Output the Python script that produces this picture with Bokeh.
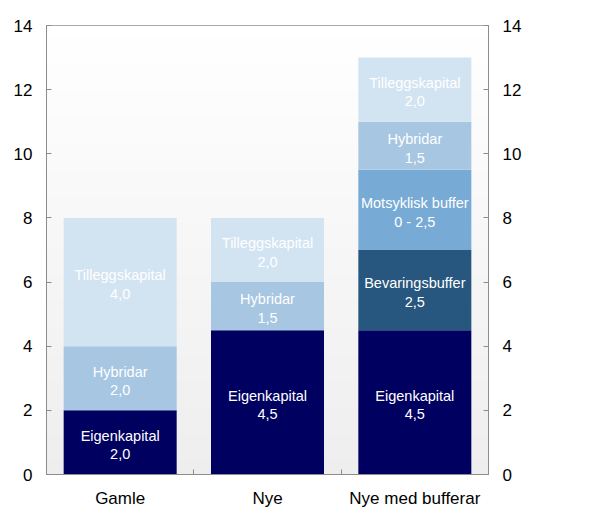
import numpy as np
from bokeh.plotting import figure
from bokeh.models import ColumnDataSource, LinearAxis, FixedTicker, Range1d
from bokeh.embed import file_html
from bokeh.resources import INLINE
from bokeh.core.properties import value

# ---- data ----
categories = ["Gamle", "Nye", "Nye med bufferar"]
components = ["Eigenkapital", "Bevaringsbuffer", "Motsyklisk buffer", "Hybridar", "Tilleggskapital"]
eigenkapital = [2.0, 4.5, 4.5]
bevaringsbuffer = [0.0, 0.0, 2.5]
motsyklisk_buffer = [0.0, 0.0, 2.5]
hybridar = [2.0, 1.5, 1.5]
tilleggskapital = [4.0, 2.0, 2.0]
label_eigenkapital = ["2,0", "4,5", "4,5"]
label_bevaringsbuffer = ["", "", "2,5"]
label_motsyklisk = ["", "", "0 - 2,5"]
label_hybridar = ["2,0", "1,5", "1,5"]
label_tilleggskapital = ["4,0", "2,0", "2,0"]
y_ticks = [0, 2, 4, 6, 8, 10, 12, 14]

series = [eigenkapital, bevaringsbuffer, motsyklisk_buffer, hybridar, tilleggskapital]
labels = [label_eigenkapital, label_bevaringsbuffer, label_motsyklisk, label_hybridar, label_tilleggskapital]
colors = ["#000060", "#27567e", "#77aad5", "#a6c6e2", "#d2e3f2"]

FONT = "Liberation Sans"
AXIS_COLOR = "#8c8c8c"

p = figure(frame_width=442, frame_height=449, output_backend="svg", toolbar_location=None,
           x_range=Range1d(0, len(categories)), y_range=Range1d(0, 14),
           min_border_left=46, min_border_right=45, min_border_top=25, min_border_bottom=28,
           background_fill_color="white", border_fill_color="white")
p.outline_line_color = AXIS_COLOR
p.grid.visible = False

# background gradient of plot area
N = 200
img = np.empty((N, 1), dtype=np.uint32)
view = img.view(dtype=np.uint8).reshape((N, 1, 4))
for r in range(N):
    c = int(round(238 + (255 - 238) * r / (N - 1)))
    view[r, 0, :] = [c, c, c, 255]
p.image_rgba(image=[img], x=0, y=0, dw=len(categories), dh=14)

# stacked bars
xs, bottoms, tops, fills = [], [], [], []
tx, ty, tt = [], [], []
cum = [0.0] * len(categories)
for comp, vals, labs, col in zip(components, series, labels, colors):
    for i, v in enumerate(vals):
        if v <= 0:
            continue
        x = i + 0.5
        b = cum[i]
        t = b + v
        xs.append(x); bottoms.append(b); tops.append(t); fills.append(col)
        tx.append(x); ty.append((b + t) / 2 - 0.08); tt.append(comp + "\n" + labs[i])
        cum[i] = t

src = ColumnDataSource(dict(x=xs, bottom=bottoms, top=tops, color=fills))
p.vbar(x="x", bottom="bottom", top="top", width=0.767, fill_color="color", line_color=None, source=src)

tsrc = ColumnDataSource(dict(x=tx, y=ty, text=tt))
p.text(x="x", y="y", text="text", source=tsrc, text_color="white", text_align="center",
       text_baseline="middle", text_font=value(FONT), text_font_size="14.5px", text_line_height=1.15)

# axes
def style_y(ax):
    ax.ticker = FixedTicker(ticks=y_ticks)
    ax.axis_line_color = AXIS_COLOR
    ax.major_tick_line_color = AXIS_COLOR
    ax.major_tick_in = 5
    ax.major_tick_out = 0
    ax.minor_tick_line_color = None
    ax.major_label_text_font = FONT
    ax.major_label_text_font_size = "17px"
    ax.major_label_text_color = "black"
    ax.major_label_standoff = 14

style_y(p.yaxis[0])
right = LinearAxis()
style_y(right)
p.add_layout(right, "right")

xa = p.xaxis[0]
xa.ticker = FixedTicker(ticks=[i + 0.5 for i in range(len(categories))],
                        minor_ticks=[i for i in range(1, len(categories))])
xa.major_label_overrides = {i + 0.5: c for i, c in enumerate(categories)}
xa.axis_line_color = AXIS_COLOR
xa.major_tick_line_color = None
xa.minor_tick_line_color = AXIS_COLOR
xa.minor_tick_in = 5
xa.minor_tick_out = 0
xa.major_label_text_font = FONT
xa.major_label_text_font_size = "17px"
xa.major_label_text_color = "black"
xa.major_label_standoff = 8

open("out.html", "w").write(file_html(p, INLINE))
